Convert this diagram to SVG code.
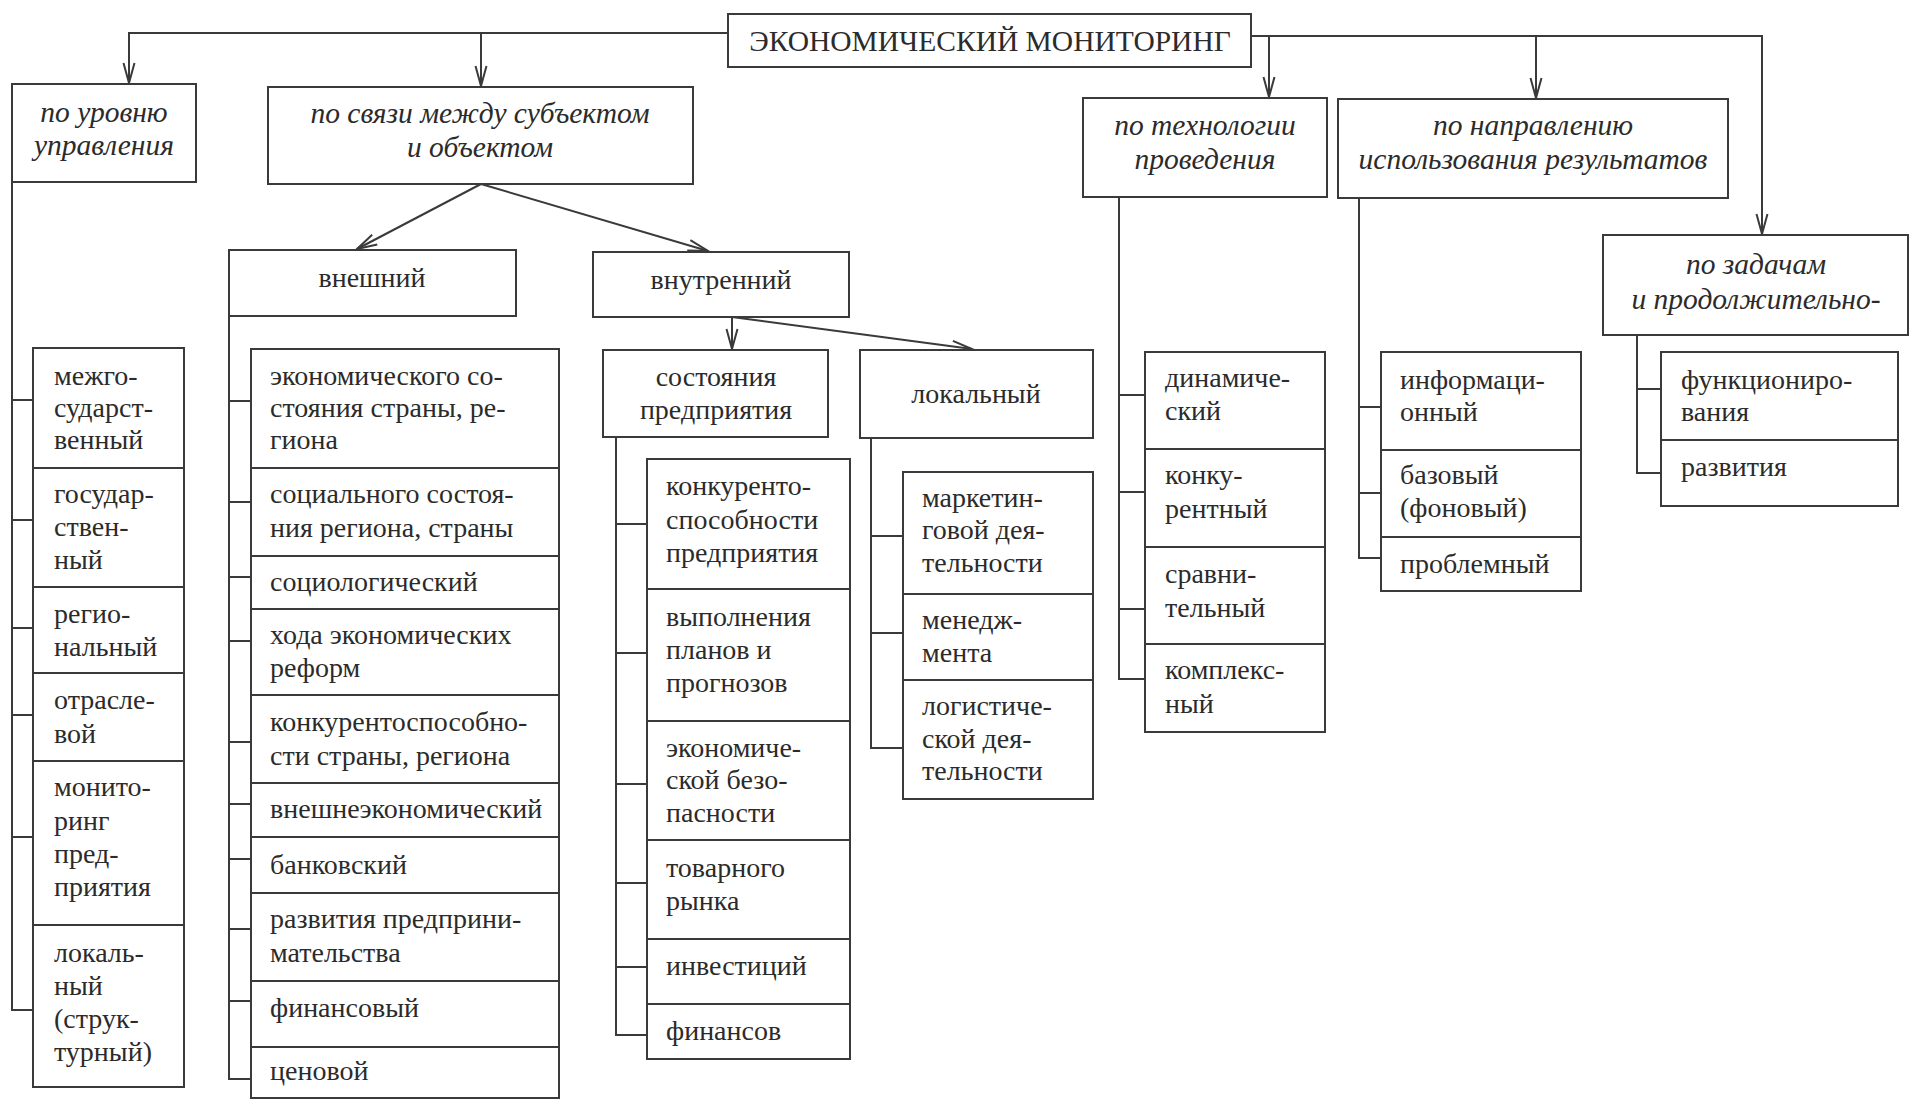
<svg xmlns="http://www.w3.org/2000/svg" width="1910" height="1104" viewBox="0 0 1910 1104">
<defs>
<style>
.bx{fill:#fff;stroke:#3a3a3a;stroke-width:2}
.ln{fill:none;stroke:#3a3a3a;stroke-width:2}
.t{font-family:"Liberation Serif","Times New Roman",serif;font-size:28px;fill:#2b2b2b}
.i{font-style:italic;font-size:29.5px}
.c{text-anchor:middle}
.ttl{font-size:29.5px}
</style>
<marker id="arr" markerUnits="userSpaceOnUse" markerWidth="24" markerHeight="14" refX="21" refY="7" orient="auto" viewBox="0 0 24 14">
<path d="M1,1.5 L21,7 L1,12.5" fill="none" stroke="#3a3a3a" stroke-width="2"/>
</marker>
</defs>
<rect width="1910" height="1104" fill="#fff"/>

<g id="connectors" class="ln">
<path d="M728,33 H129 V83" marker-end="url(#arr)"/>
<path d="M481,33 V86" marker-end="url(#arr)"/>
<path d="M1251,36 H1762 V234" marker-end="url(#arr)"/>
<path d="M1269,36 V97" marker-end="url(#arr)"/>
<path d="M1536,36 V98" marker-end="url(#arr)"/>
<path d="M481,184 L357,249" marker-end="url(#arr)"/>
<path d="M481,184 L708,251" marker-end="url(#arr)"/>
<path d="M732,317 V349" marker-end="url(#arr)"/>
<path d="M732,317 L972,349" marker-end="url(#arr)"/>
<path d="M12,182 V1010 H33 M12,400 H33 M12,520 H33 M12,628 H33 M12,715 H33 M12,837 H33"/>
<path d="M229,316 V1079 H251 M229,401 H251 M229,502 H251 M229,577 H251 M229,641 H251 M229,742 H251 M229,804 H251 M229,859 H251 M229,929 H251 M229,1001 H251"/>
<path d="M616,437 V1035 H647 M616,524 H647 M616,653 H647 M616,784 H647 M616,883 H647 M616,967 H647"/>
<path d="M871,438 V748 H903 M871,536 H903 M871,633 H903"/>
<path d="M1119,197 V679 H1145 M1119,395 H1145 M1119,492 H1145 M1119,609 H1145"/>
<path d="M1359,198 V558 H1381 M1359,407 H1381 M1359,493 H1381"/>
<path d="M1637,335 V473 H1661 M1637,389 H1661"/>
</g>

<g id="root"><rect class="bx" x="728" y="14" width="523" height="53"/><text class="t c ttl" x="990" y="51">ЭКОНОМИЧЕСКИЙ МОНИТОРИНГ</text></g>

<g id="level"><rect class="bx" x="12" y="84" width="184" height="98"/><text class="t i c" x="104" y="122">по уровню</text><text class="t i c" x="104" y="155">управления</text></g>
<g id="link"><rect class="bx" x="268" y="87" width="425" height="97"/><text class="t i c" x="480" y="123">по связи между субъектом</text><text class="t i c" x="480" y="157">и объектом</text></g>
<g id="tech"><rect class="bx" x="1083" y="98" width="244" height="99"/><text class="t i c" x="1205" y="135">по технологии</text><text class="t i c" x="1205" y="169">проведения</text></g>
<g id="direction"><rect class="bx" x="1338" y="99" width="390" height="99"/><text class="t i c" x="1533" y="135">по направлению</text><text class="t i c" x="1533" y="169">использования результатов</text></g>
<g id="tasks"><rect class="bx" x="1603" y="235" width="305" height="100"/><text class="t i c" x="1756" y="274">по задачам</text><text class="t i c" x="1756" y="309">и продолжительно-</text></g>

<g id="external"><rect class="bx" x="229" y="250" width="287" height="66"/><text class="t c" x="372" y="287">внешний</text></g>
<g id="internal"><rect class="bx" x="593" y="252" width="256" height="65"/><text class="t c" x="721" y="289">внутренний</text></g>
<g id="enterprise-state"><rect class="bx" x="603" y="350" width="225" height="87"/><text class="t c" x="716" y="386">состояния</text><text class="t c" x="716" y="419">предприятия</text></g>
<g id="local"><rect class="bx" x="860" y="350" width="233" height="88"/><text class="t c" x="976" y="403">локальный</text></g>

<g id="a1"><rect class="bx" x="33" y="348" width="151" height="120"/><text class="t" x="54" y="385">межго-</text><text class="t" x="54" y="417">сударст-</text><text class="t" x="54" y="449">венный</text></g>
<g id="a2"><rect class="bx" x="33" y="468" width="151" height="119"/><text class="t" x="54" y="503">государ-</text><text class="t" x="54" y="536">ствен-</text><text class="t" x="54" y="569">ный</text></g>
<g id="a3"><rect class="bx" x="33" y="587" width="151" height="86"/><text class="t" x="54" y="623">регио-</text><text class="t" x="54" y="656">нальный</text></g>
<g id="a4"><rect class="bx" x="33" y="673" width="151" height="88"/><text class="t" x="54" y="709">отрасле-</text><text class="t" x="54" y="743">вой</text></g>
<g id="a5"><rect class="bx" x="33" y="761" width="151" height="164"/><text class="t" x="54" y="796">монито-</text><text class="t" x="54" y="830">ринг</text><text class="t" x="54" y="863">пред-</text><text class="t" x="54" y="896">приятия</text></g>
<g id="a6"><rect class="bx" x="33" y="925" width="151" height="162"/><text class="t" x="54" y="962">локаль-</text><text class="t" x="54" y="995">ный</text><text class="t" x="54" y="1028">(струк-</text><text class="t" x="54" y="1061">турный)</text></g>

<g id="b1"><rect class="bx" x="251" y="349" width="308" height="119"/><text class="t" x="270" y="385">экономического со-</text><text class="t" x="270" y="417">стояния страны, ре-</text><text class="t" x="270" y="449">гиона</text></g>
<g id="b2"><rect class="bx" x="251" y="468" width="308" height="88"/><text class="t" x="270" y="503">социального состоя-</text><text class="t" x="270" y="537">ния региона, страны</text></g>
<g id="b3"><rect class="bx" x="251" y="556" width="308" height="53"/><text class="t" x="270" y="591">социологический</text></g>
<g id="b4"><rect class="bx" x="251" y="609" width="308" height="86"/><text class="t" x="270" y="644">хода экономических</text><text class="t" x="270" y="677">реформ</text></g>
<g id="b5"><rect class="bx" x="251" y="695" width="308" height="88"/><text class="t" x="270" y="731">конкурентоспособно-</text><text class="t" x="270" y="765">сти страны, региона</text></g>
<g id="b6"><rect class="bx" x="251" y="783" width="308" height="54"/><text class="t" x="270" y="818">внешнеэкономический</text></g>
<g id="b7"><rect class="bx" x="251" y="837" width="308" height="56"/><text class="t" x="270" y="874">банковский</text></g>
<g id="b8"><rect class="bx" x="251" y="893" width="308" height="88"/><text class="t" x="270" y="928">развития предприни-</text><text class="t" x="270" y="962">мательства</text></g>
<g id="b9"><rect class="bx" x="251" y="981" width="308" height="66"/><text class="t" x="270" y="1017">финансовый</text></g>
<g id="b10"><rect class="bx" x="251" y="1047" width="308" height="51"/><text class="t" x="270" y="1080">ценовой</text></g>

<g id="c1"><rect class="bx" x="647" y="459" width="203" height="130"/><text class="t" x="666" y="495">конкуренто-</text><text class="t" x="666" y="529">способности</text><text class="t" x="666" y="562">предприятия</text></g>
<g id="c2"><rect class="bx" x="647" y="589" width="203" height="132"/><text class="t" x="666" y="626">выполнения</text><text class="t" x="666" y="659">планов и</text><text class="t" x="666" y="692">прогнозов</text></g>
<g id="c3"><rect class="bx" x="647" y="721" width="203" height="119"/><text class="t" x="666" y="757">экономиче-</text><text class="t" x="666" y="789">ской безо-</text><text class="t" x="666" y="822">пасности</text></g>
<g id="c4"><rect class="bx" x="647" y="840" width="203" height="99"/><text class="t" x="666" y="877">товарного</text><text class="t" x="666" y="910">рынка</text></g>
<g id="c5"><rect class="bx" x="647" y="939" width="203" height="65"/><text class="t" x="666" y="975">инвестиций</text></g>
<g id="c6"><rect class="bx" x="647" y="1004" width="203" height="55"/><text class="t" x="666" y="1040">финансов</text></g>

<g id="d1"><rect class="bx" x="903" y="472" width="190" height="122"/><text class="t" x="922" y="507">маркетин-</text><text class="t" x="922" y="539">говой дея-</text><text class="t" x="922" y="572">тельности</text></g>
<g id="d2"><rect class="bx" x="903" y="594" width="190" height="86"/><text class="t" x="922" y="629">менедж-</text><text class="t" x="922" y="662">мента</text></g>
<g id="d3"><rect class="bx" x="903" y="680" width="190" height="119"/><text class="t" x="922" y="715">логистиче-</text><text class="t" x="922" y="748">ской дея-</text><text class="t" x="922" y="780">тельности</text></g>

<g id="e1"><rect class="bx" x="1145" y="352" width="180" height="97"/><text class="t" x="1165" y="387">динамиче-</text><text class="t" x="1165" y="420">ский</text></g>
<g id="e2"><rect class="bx" x="1145" y="449" width="180" height="98"/><text class="t" x="1165" y="484">конку-</text><text class="t" x="1165" y="518">рентный</text></g>
<g id="e3"><rect class="bx" x="1145" y="547" width="180" height="97"/><text class="t" x="1165" y="583">сравни-</text><text class="t" x="1165" y="617">тельный</text></g>
<g id="e4"><rect class="bx" x="1145" y="644" width="180" height="88"/><text class="t" x="1165" y="679">комплекс-</text><text class="t" x="1165" y="713">ный</text></g>

<g id="f1"><rect class="bx" x="1381" y="352" width="200" height="98"/><text class="t" x="1400" y="389">информаци-</text><text class="t" x="1400" y="421">онный</text></g>
<g id="f2"><rect class="bx" x="1381" y="450" width="200" height="87"/><text class="t" x="1400" y="484">базовый</text><text class="t" x="1400" y="517">(фоновый)</text></g>
<g id="f3"><rect class="bx" x="1381" y="537" width="200" height="54"/><text class="t" x="1400" y="573">проблемный</text></g>

<g id="g1"><rect class="bx" x="1661" y="352" width="237" height="88"/><text class="t" x="1681" y="389">функциониро-</text><text class="t" x="1681" y="421">вания</text></g>
<g id="g2"><rect class="bx" x="1661" y="440" width="237" height="66"/><text class="t" x="1681" y="476">развития</text></g>
</svg>
